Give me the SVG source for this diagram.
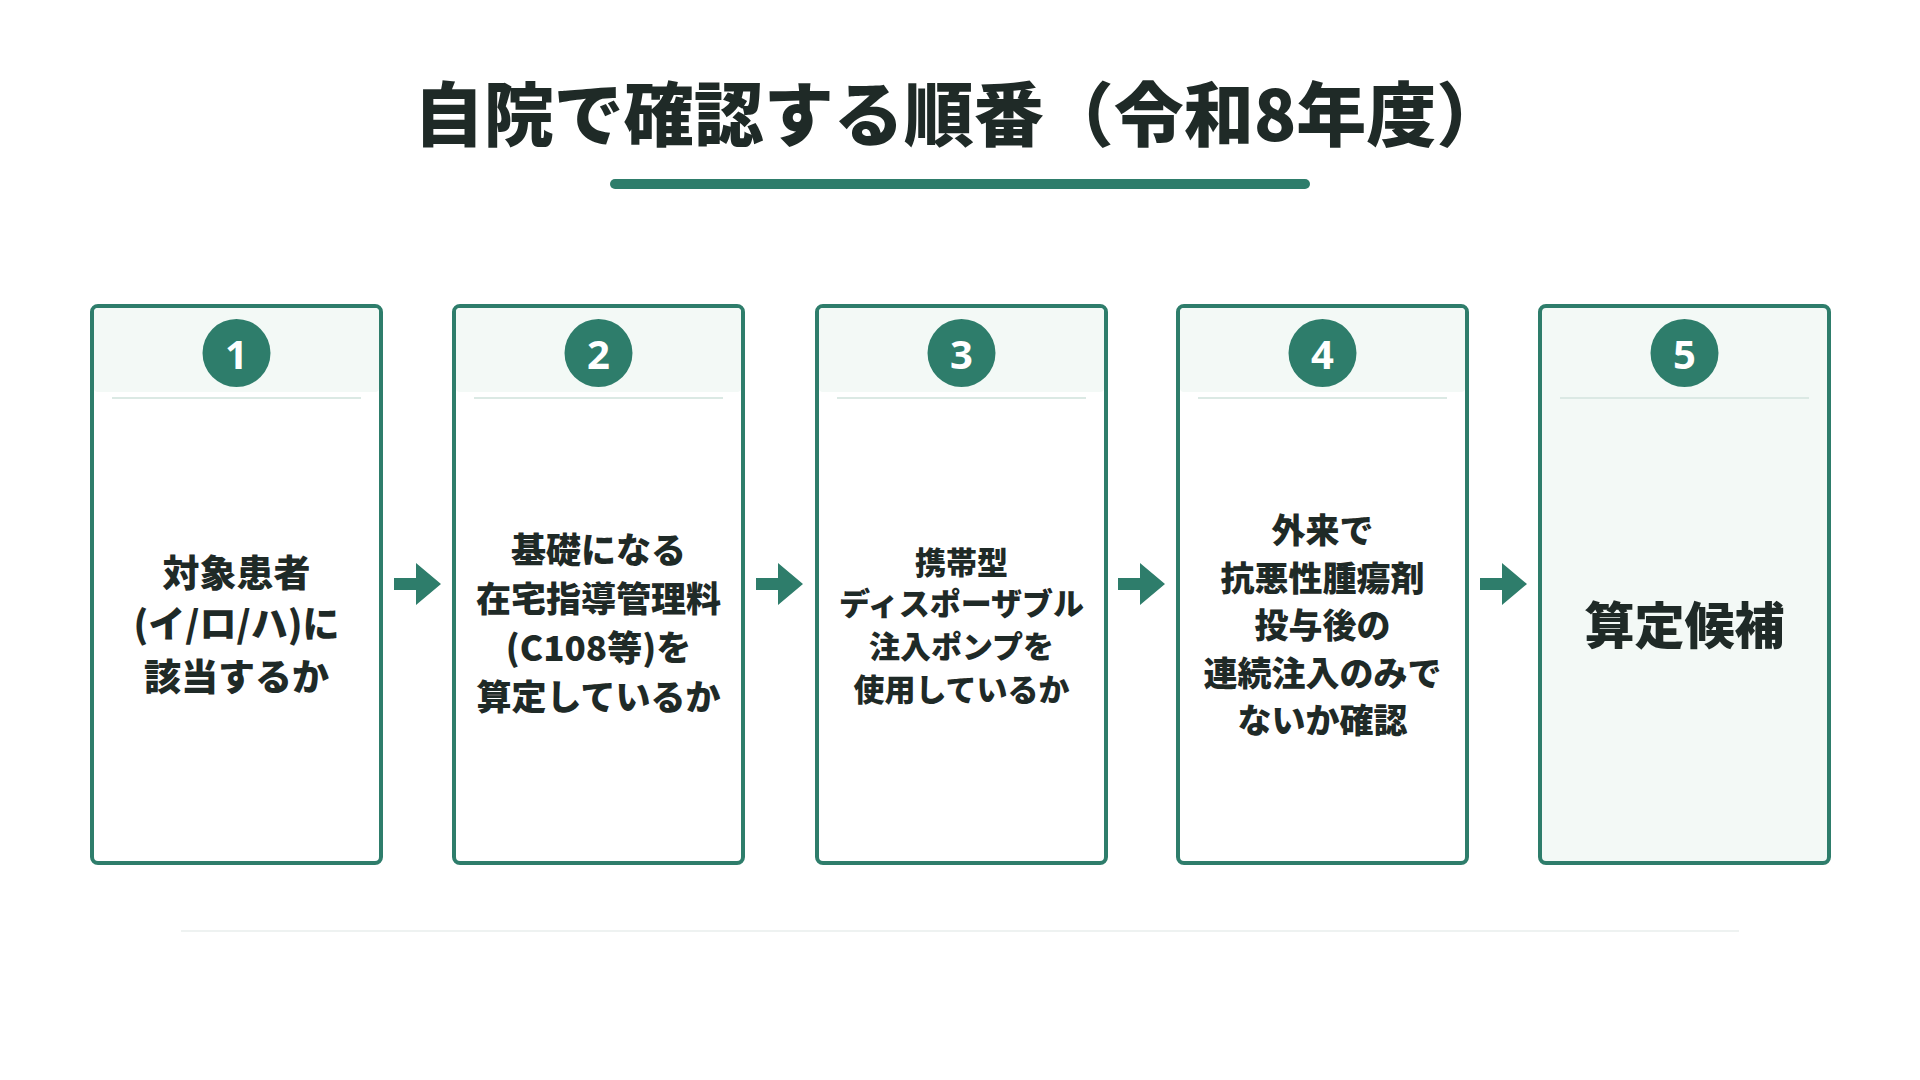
<svg xmlns="http://www.w3.org/2000/svg" width="1920" height="1080" viewBox="0 0 1920 1080">
<defs><style>
.t{font-family:"Noto Sans CJK JP","Noto Sans",sans-serif;font-weight:900;fill:#1f2a27;text-anchor:middle;dominant-baseline:central}
.box{fill:#fff;stroke:#2e7d6b;stroke-width:4}
.hd{fill:#f3f9f6}
.dv{stroke:#dbe9e4;stroke-width:2}
.num{fill:#2e7d6b}
.n{font-family:"Noto Sans","Noto Sans CJK JP",sans-serif;font-weight:700;fill:#fff;font-size:40px;text-anchor:middle;dominant-baseline:central}
.ar{fill:#2e7d6b}
</style></defs>
<rect width="1920" height="1080" fill="#fff"/>
<text class="t" x="960" y="110" font-size="70">自院で確認する順番（令和8年度）</text>
<rect x="610" y="179" width="700" height="10" rx="5" fill="#2e7d6b"/>
<line x1="181" y1="931" x2="1739" y2="931" stroke="#eef2f1" stroke-width="2"/>
<g id="connectors">
<path class="ar" d="M394 578h22v-15l25 21-25 21v-15h-22z"/>
<path class="ar" d="M756 578h22v-15l25 21-25 21v-15h-22z"/>
<path class="ar" d="M1118 578h22v-15l25 21-25 21v-15h-22z"/>
<path class="ar" d="M1480 578h22v-15l25 21-25 21v-15h-22z"/>
</g>
<g id="step1">
<rect class="box" x="92" y="306" width="289" height="557" rx="6"/>
<rect class="hd" x="94" y="308" width="285" height="84" rx="4"/>
<line class="dv" x1="112" y1="398" x2="361" y2="398"/>
<circle class="num" cx="236.5" cy="353" r="34"/><text class="n" x="236.5" y="353">1</text>
<text class="t" font-size="37"><tspan x="236.5" y="571">対象患者</tspan><tspan x="236.5" y="622">(イ/ロ/ハ)に</tspan><tspan x="236.5" y="675">該当するか</tspan></text>
</g>
<g id="step2">
<rect class="box" x="454" y="306" width="289" height="557" rx="6"/>
<rect class="hd" x="456" y="308" width="285" height="84" rx="4"/>
<line class="dv" x1="474" y1="398" x2="723" y2="398"/>
<circle class="num" cx="598.5" cy="353" r="34"/><text class="n" x="598.5" y="353">2</text>
<text class="t" font-size="35"><tspan x="598.5" y="547">基礎になる</tspan><tspan x="598.5" y="596">在宅指導管理料</tspan><tspan x="598.5" y="645">(C108等)を</tspan><tspan x="598.5" y="694">算定しているか</tspan></text>
</g>
<g id="step3">
<rect class="box" x="817" y="306" width="289" height="557" rx="6"/>
<rect class="hd" x="819" y="308" width="285" height="84" rx="4"/>
<line class="dv" x1="837" y1="398" x2="1086" y2="398"/>
<circle class="num" cx="961.5" cy="353" r="34"/><text class="n" x="961.5" y="353">3</text>
<text class="t" font-size="31"><tspan x="961.5" y="560">携帯型</tspan><tspan x="961.5" y="601">ディスポーザブル</tspan><tspan x="961.5" y="644">注入ポンプを</tspan><tspan x="961.5" y="687">使用しているか</tspan></text>
</g>
<g id="step4">
<rect class="box" x="1178" y="306" width="289" height="557" rx="6"/>
<rect class="hd" x="1180" y="308" width="285" height="84" rx="4"/>
<line class="dv" x1="1198" y1="398" x2="1447" y2="398"/>
<circle class="num" cx="1322.5" cy="353" r="34"/><text class="n" x="1322.5" y="353">4</text>
<text class="t" font-size="34"><tspan x="1322.5" y="528">外来で</tspan><tspan x="1322.5" y="576">抗悪性腫瘍剤</tspan><tspan x="1322.5" y="623">投与後の</tspan><tspan x="1322.5" y="671">連続注入のみで</tspan><tspan x="1322.5" y="718">ないか確認</tspan></text>
</g>
<g id="step5">
<rect class="box" x="1540" y="306" width="289" height="557" rx="6" style="fill:#f3f9f6"/>
<line class="dv" x1="1560" y1="398" x2="1809" y2="398"/>
<circle class="num" cx="1684.5" cy="353" r="34"/><text class="n" x="1684.5" y="353">5</text>
<text class="t" font-size="50" x="1684.5" y="622">算定候補</text>
</g>
</svg>
